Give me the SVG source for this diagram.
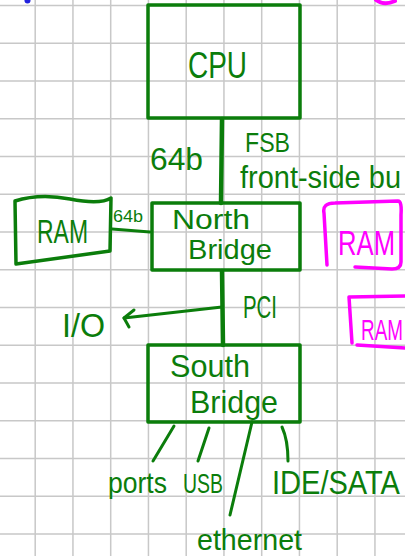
<svg xmlns="http://www.w3.org/2000/svg" width="405" height="556" viewBox="0 0 405 556">
  <style>
    .grid { stroke: #c8c8c8; stroke-width: 1.5; fill: none; }
    .box { fill: none; stroke: #0b7d0b; stroke-width: 3.5; stroke-linecap: round; stroke-linejoin: round; }
    .pink { fill: none; stroke: #ff00ff; stroke-width: 3.5; stroke-linecap: round; stroke-linejoin: round; }
    .wire { fill: none; stroke: #0b7d0b; stroke-width: 3; stroke-linecap: round; stroke-linejoin: round; }
    .bus { fill: none; stroke: #0b7d0b; stroke-width: 4.5; stroke-linecap: round; }
    text { font-family: "Liberation Sans", Arial, sans-serif; fill: #0b7d0b; }
    .pt { fill: #ff00ff; }
  </style>

  <rect width="405" height="556" fill="#ffffff"/>

  <!-- squared paper -->
  <path class="grid" d="M35.2 0V556M72.95 0V556M110.7 0V556M148.45 0V556M186.2 0V556M223.95 0V556M261.7 0V556M299.45 0V556M337.2 0V556M374.95 0V556
    M0 5.5H405M0 43.25H405M0 81H405M0 118.75H405M0 156.5H405M0 194.25H405M0 232H405M0 269.75H405M0 307.5H405M0 345.25H405M0 383H405M0 420.75H405M0 458.5H405M0 496.25H405M0 534H405"/>

  <!-- stray pen marks at the top edge -->
  <ellipse cx="27.5" cy="0.5" rx="3" ry="3" fill="#2222dd"/>
  <path d="M376 0Q384 6 395 1" fill="none" stroke="#ff00ff" stroke-width="4" stroke-linecap="round"/>

  <g id="connectors">
    <!-- front-side bus -->
    <path class="bus" d="M222 119L221 203"/>
    <!-- memory bus -->
    <path class="wire" d="M112 229L150 232"/>
    <!-- PCI -->
    <path class="bus" d="M222 271L223 345"/>
    <!-- I/O branch with open arrowhead -->
    <path class="wire" d="M222 307L124 318"/>
    <path class="wire" d="M134 310L124 318L129 327"/>
    <!-- south bridge outputs -->
    <path class="wire" d="M174 426L153 461"/>
    <path class="wire" d="M209 428L198 461"/>
    <path class="wire" d="M252 422L230 515"/>
    <path class="wire" d="M282 427Q288 440 288 461"/>
  </g>

  <g id="cpu">
    <rect class="box" x="148" y="5" width="152" height="113"/>
    <text x="188" y="78" font-size="36" textLength="59" lengthAdjust="spacingAndGlyphs">CPU</text>
  </g>

  <g id="fsb-labels">
    <text x="150" y="170" font-size="32" textLength="53" lengthAdjust="spacingAndGlyphs">64b</text>
    <text x="245" y="152" font-size="28" textLength="45" lengthAdjust="spacingAndGlyphs">FSB</text>
    <text transform="translate(240 188) scale(1 1.07)" font-size="29" textLength="161" lengthAdjust="spacingAndGlyphs">front-side bu</text>
  </g>

  <g id="north-bridge">
    <rect class="box" x="152" y="203" width="148" height="67"/>
    <text x="172" y="229" font-size="27" textLength="78" lengthAdjust="spacingAndGlyphs">North</text>
    <text x="188" y="259" font-size="27" textLength="84" lengthAdjust="spacingAndGlyphs">Bridge</text>
  </g>

  <g id="ram">
    <path class="box" d="M15 201Q40 193 70 199T111 198L110 251L16 264Z"/>
    <text x="37" y="243" font-size="34" textLength="51" lengthAdjust="spacingAndGlyphs">RAM</text>
    <text x="113" y="222" font-size="17" textLength="30" lengthAdjust="spacingAndGlyphs">64b</text>
  </g>

  <g id="pci-labels">
    <text x="243" y="318" font-size="31" textLength="34" lengthAdjust="spacingAndGlyphs">PCI</text>
    <text x="62" y="337" font-size="34" textLength="43" lengthAdjust="spacingAndGlyphs">I/O</text>
  </g>

  <g id="ram-2">
    <path class="pink" d="M324 213Q322 203 335 203L398 201Q402 201 401 215L401 262Q401 269 392 269L355 267M324 213L327 265"/>
    <text class="pt" transform="translate(338 255) scale(1 1.38)" font-size="26" textLength="57" lengthAdjust="spacingAndGlyphs">RAM</text>
  </g>

  <g id="ram-3">
    <path class="pink" d="M352 343L349 297L405 296M357 345L405 348"/>
    <text class="pt" transform="translate(361 340) scale(1 1.55)" font-size="19" textLength="42" lengthAdjust="spacingAndGlyphs">RAM</text>
  </g>

  <g id="south-bridge">
    <rect class="box" x="148" y="345" width="152" height="77"/>
    <text x="170" y="377" font-size="32" textLength="80" lengthAdjust="spacingAndGlyphs">South</text>
    <text x="190" y="413" font-size="32" textLength="88" lengthAdjust="spacingAndGlyphs">Bridge</text>
  </g>

  <g id="io-labels">
    <text x="108" y="493" font-size="30" textLength="59" lengthAdjust="spacingAndGlyphs">ports</text>
    <text x="183" y="493" font-size="28" textLength="40" lengthAdjust="spacingAndGlyphs">USB</text>
    <text transform="translate(272 494) scale(1 1.2)" font-size="28" textLength="128" lengthAdjust="spacingAndGlyphs">IDE/SATA</text>
    <text x="197" y="550" font-size="30" textLength="105" lengthAdjust="spacingAndGlyphs">ethernet</text>
  </g>
</svg>
